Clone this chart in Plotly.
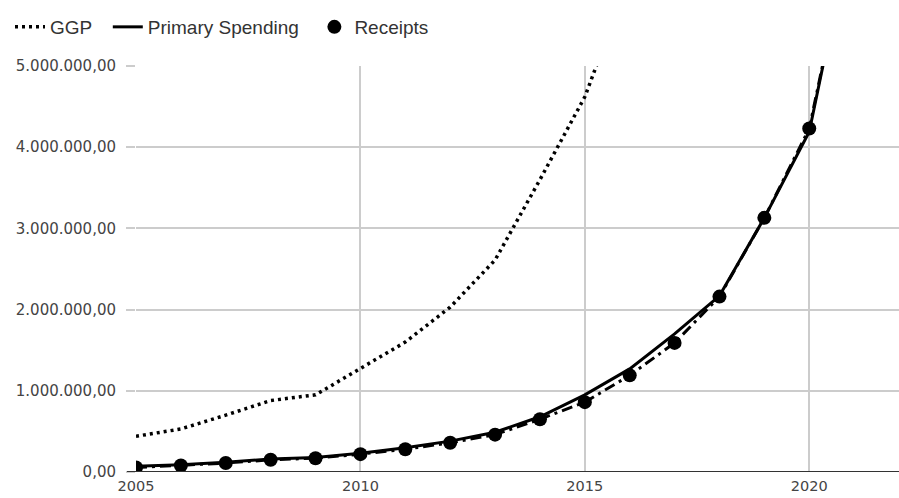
import plotly.graph_objects as go

# Annual series (values in local currency units)
years = list(range(2005, 2022))

ggp_years = list(range(2005, 2017))
ggp = [440000, 530000, 700000, 880000, 950000, 1280000, 1600000,
       2030000, 2610000, 3600000, 4620000, 6100000]

primary_spending = [70000, 90000, 120000, 160000, 180000, 230000, 300000,
                    380000, 490000, 680000, 950000, 1270000, 1700000,
                    2170000, 3130000, 4190000, 6850000]

receipts = [55000, 80000, 110000, 150000, 170000, 220000, 280000,
            360000, 460000, 650000, 860000, 1190000, 1590000,
            2160000, 3130000, 4230000, 6850000]

y_ticks = [0, 1000000, 2000000, 3000000, 4000000, 5000000]
x_ticks = [2005, 2010, 2015, 2020]


def euro_format(v):
    s = f"{v:,.2f}"
    return s.replace(",", "X").replace(".", ",").replace("X", ".")


y_labels = [euro_format(v) for v in y_ticks]
pad = "\u00a0\u00a0"  # extra room between horizontal legend entries

fig = go.Figure()

fig.add_trace(go.Scatter(
    x=ggp_years, y=ggp, name="GGP" + pad, mode="lines",
    line=dict(color="black", width=3.5, dash="3px,4px"),
))
fig.add_trace(go.Scatter(
    x=years, y=primary_spending, name="Primary Spending" + pad, mode="lines",
    line=dict(color="black", width=3),
))
fig.add_trace(go.Scatter(
    x=years, y=receipts, name="Receipts", mode="lines",
    line=dict(color="black", width=3, dash="11px,5px,3px,5px"),
    legendgroup="receipts", showlegend=False,
))
fig.add_trace(go.Scatter(
    x=years, y=receipts, name="Receipts", mode="markers",
    marker=dict(color="black", size=14),
    legendgroup="receipts",
))

plot_w = 899 - 136
tick_font = dict(family="DejaVu Sans", size=15, color="#444")
fig.update_layout(
    width=899, height=498,
    margin=dict(l=136, r=0, t=66, b=26),
    paper_bgcolor="white", plot_bgcolor="white",
    showlegend=True,
    legend=dict(
        orientation="h", x=-126 / plot_w, xanchor="left",
        y=1 + (66 - 27) / 406, yanchor="middle",
        font=dict(family="Liberation Sans, Arial", size=19, color="#333"),
        itemwidth=30, bgcolor="rgba(0,0,0,0)",
    ),
    xaxis=dict(
        range=[2005, 2022], tickvals=x_ticks,
        ticktext=[str(v) for v in x_ticks],
        showgrid=True, gridcolor="#cccccc", gridwidth=1.5,
        zeroline=False, showline=False, ticks="",
        tickfont=dict(family="DejaVu Sans", size=14.5, color="#444"),
        ticklabelstandoff=3, automargin=False,
    ),
    yaxis=dict(
        range=[0, 5000000], tickvals=y_ticks, ticktext=y_labels,
        showgrid=True, gridcolor="#cccccc", gridwidth=1.5,
        zeroline=False, showline=False,
        ticks="outside", ticklen=9, tickcolor="#cccccc", tickwidth=1.5,
        tickfont=tick_font, ticklabelstandoff=7, automargin=False,
    ),
    shapes=[
        # baseline axis, extended left over the tick area
        dict(type="line", xref="paper", yref="y",
             x0=-9 / plot_w, x1=1, y0=0, y1=0,
             line=dict(color="#333", width=2), layer="above"),
    ],
)

fig.write_html("out.html")
